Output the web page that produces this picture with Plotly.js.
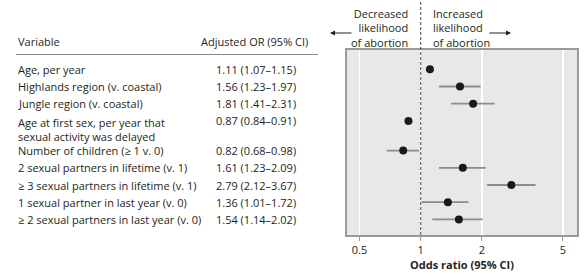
<!DOCTYPE html>
<html><head><meta charset="utf-8">
<script src="https://cdn.plot.ly/plotly-3.0.1.min.js"></script>
<style>html,body{margin:0;padding:0;background:#fff;}#chart{width:587px;height:278px;}</style>
</head><body><div id="chart"></div>
<script>
const variables = [
  "Age, per year",
  "Highlands region (v. coastal)",
  "Jungle region (v. coastal)",
  "Age at first sex, per year that<br>sexual activity was delayed",
  "Number of children (≥ 1 v. 0)",
  "2 sexual partners in lifetime (v. 1)",
  "≥ 3 sexual partners in lifetime (v. 1)",
  "1 sexual partner in last year (v. 0)",
  "≥ 2 sexual partners in last year (v. 0)"
];
const orValues = [1.11, 1.56, 1.81, 0.87, 0.82, 1.61, 2.79, 1.36, 1.54];
const ciLow   = [1.07, 1.23, 1.41, 0.84, 0.68, 1.23, 2.12, 1.01, 1.14];
const ciHigh  = [1.15, 1.97, 2.31, 0.91, 0.98, 2.09, 3.67, 1.72, 2.02];
const tickVals = [0.5, 1, 2, 5];
const tickText = ["0.5", "1", "2", "5"];

// layout helpers (pixel geometry)
const W = 587, H = 278;
const L = 347, R = 577, T = 50, B = 235;
const pw = R - L, ph = B - T;
const px = x => (x - L) / pw;
const py = y => 1 - (y - T) / ph;

// row vertical positions in pixel units
const rowY = [];
let cur = 69.3;
variables.forEach((v, i) => {
  rowY.push(cur);
  const lines = v.split("<br>").length;
  cur += 17.2 + (lines - 1) * 12.5;
});

const fmt = v => v.toFixed(2);
const orText = orValues.map((v, i) => fmt(v) + " (" + fmt(ciLow[i]) + "–" + fmt(ciHigh[i]) + ")");

const font = "Open Sans, Noto Sans, sans-serif";
const txtColor = "#231f20";

const trace = {
  type: "scatter", mode: "markers",
  x: orValues, y: rowY,
  marker: {color: "#1a1a1a", size: 8},
  error_x: {
    type: "data", symmetric: false,
    array: orValues.map((v, i) => ciHigh[i] - v),
    arrayminus: orValues.map((v, i) => v - ciLow[i]),
    color: "#8c8c8c", thickness: 1.8, width: 0
  },
  hoverinfo: "skip"
};

const annotations = [];
variables.forEach((v, i) => {
  const lines = v.split("<br>").length;
  annotations.push({xref: "paper", yref: "y", x: px(16), y: rowY[i], text: v,
    xanchor: "left", yanchor: lines > 1 ? "top" : "middle", yshift: lines > 1 ? 8 : 0,
    align: "left", showarrow: false, font: {family: font, size: 11, color: txtColor}});
  annotations.push({xref: "paper", yref: "y", x: px(298), y: rowY[i], text: orText[i],
    xanchor: "right", yanchor: "middle", showarrow: false,
    font: {family: font, size: 11, color: txtColor}});
});
annotations.push({xref: "paper", yref: "paper", x: px(16), y: py(41), text: "Variable",
  xanchor: "left", yanchor: "middle", showarrow: false, font: {family: font, size: 11, color: txtColor}});
annotations.push({xref: "paper", yref: "paper", x: px(199), y: py(41), text: "Adjusted OR (95% CI)",
  xanchor: "left", yanchor: "middle", showarrow: false, font: {family: font, size: 11, color: txtColor}});
annotations.push({xref: "paper", yref: "paper", x: px(410), y: py(28), text: "Decreased<br>likelihood<br>of abortion",
  xanchor: "right", yanchor: "middle", align: "right", showarrow: false, font: {family: font, size: 11, color: txtColor}});
annotations.push({xref: "paper", yref: "paper", x: px(431), y: py(28), text: "Increased<br>likelihood<br>of abortion",
  xanchor: "left", yanchor: "middle", align: "left", showarrow: false, font: {family: font, size: 11, color: txtColor}});
annotations.push({xref: "paper", yref: "paper", x: px(330), y: py(33), ax: 23, ay: 0, text: "",
  showarrow: true, arrowhead: 2, arrowsize: 1, arrowwidth: 1, arrowcolor: "#231f20"});
annotations.push({xref: "paper", yref: "paper", x: px(511), y: py(33), ax: -23, ay: 0, text: "",
  showarrow: true, arrowhead: 2, arrowsize: 1, arrowwidth: 1, arrowcolor: "#231f20"});

const shapes = [
  {type: "line", xref: "paper", yref: "paper", x0: px(16), x1: px(318), y0: py(54.5), y1: py(54.5),
   line: {color: "#8a8a8a", width: 1}},
  {type: "line", xref: "x", yref: "paper", x0: 1, x1: 1, y0: 0, y1: py(2),
   line: {color: "#4a4a4a", width: 1, dash: "3px,2px"}}
];

const layout = {
  width: W, height: H,
  margin: {l: L, r: W - R, t: T, b: H - B},
  paper_bgcolor: "#ffffff", plot_bgcolor: "#e8e8e8",
  showlegend: false,
  xaxis: {type: "log", range: [-0.3627, 0.7686], tickvals: tickVals, ticktext: tickText,
    showgrid: true, gridcolor: "#ffffff", gridwidth: 1.5, zeroline: false,
    ticks: "outside", ticklen: 4, tickcolor: "#9a9a9a", tickwidth: 1,
    showline: true, mirror: true, linecolor: "#9a9a9a", linewidth: 2,
    tickfont: {family: font, size: 11, color: txtColor},
    title: {text: "<b>Odds ratio (95% CI)</b>", font: {family: font, size: 11, color: txtColor}, standoff: 4},
    fixedrange: true},
  yaxis: {range: [B, T], showgrid: false, zeroline: false, showticklabels: false, ticks: "",
    showline: true, mirror: true, linecolor: "#9a9a9a", linewidth: 2, fixedrange: true},
  annotations: annotations, shapes: shapes
};

Plotly.newPlot("chart", [trace], layout, {displayModeBar: false, staticPlot: true});
</script></body></html>
